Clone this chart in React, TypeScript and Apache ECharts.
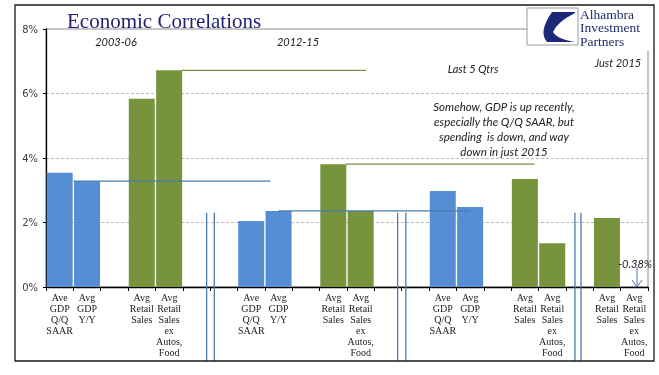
import React, { useEffect, useRef } from "react";
import * as echarts from "echarts";

const categories = [
  "Ave\nGDP\nQ/Q\nSAAR", "Avg\nGDP\nY/Y", "",
  "Avg\nRetail\nSales", "Avg\nRetail\nSales\nex\nAutos,\nFood", "", "",
  "Ave\nGDP\nQ/Q\nSAAR", "Avg\nGDP\nY/Y", "",
  "Avg\nRetail\nSales", "Avg\nRetail\nSales\nex\nAutos,\nFood", "", "",
  "Ave\nGDP\nQ/Q\nSAAR", "Avg\nGDP\nY/Y", "",
  "Avg\nRetail\nSales", "Avg\nRetail\nSales\nex\nAutos,\nFood", "",
  "Avg\nRetail\nSales", "Avg\nRetail\nSales\nex\nAutos,\nFood",
];

const gdpValues = [3.54, 3.28, null, null, null, null, null, 2.05, 2.36, null, null, null, null, null, 2.98, 2.48, null, null, null, null, null, null];
const retailValues = [null, null, null, 5.84, 6.72, null, null, null, null, null, 3.81, 2.36, null, null, null, null, null, 3.35, 1.36, null, 2.14, -0.38];

const yTicks = [0, 2, 4, 6, 8];

// reference lines: [fromSlot, toSlot, value]
const gdpRefLines = [[1, 8.2, 3.28], [8.5, 15.5, 2.36]];
const retailRefLines = [[4.97, 11.7, 6.72], [10.96, 17.85, 3.81]];

// period separators (slot positions)
const separators = [5.87, 6.15, 12.85, 13.15, 19.33, 19.55];

const periodLabels = ["2003-06", "2012-15", "Last 5 Qtrs", "Just 2015"];
const noteLines = ["Somehow, GDP is up recently,", "especially the Q/Q SAAR, but", "spending  is down, and way", "down in just 2015"];
const lastValueLabel = "-0.38%";
const logoLines = ["Alhambra", "Investment", "Partners"];

const BLUE = "#558ED5";
const GREEN = "#77933C";
const LINE_BLUE = "#4A7AAE";

echarts.graphic.registerShape(
  "aipLogo",
  echarts.graphic.extendPath("M25,4 L48,4 L48,5 Q30,14 26,24 Q30,31 48,34 L20,34 Q11,24 25,4 Z", {})
);

export default function App() {
  const ref = useRef<HTMLDivElement>(null);
  useEffect(() => {
    const chart = echarts.init(ref.current!, null, { renderer: "svg" });
    const refSeries: any[] = [];
    gdpRefLines.forEach((l) =>
      refSeries.push({
        type: "line", xAxisIndex: 1, yAxisIndex: 0, showSymbol: false, silent: true,
        data: [[l[0], l[2]], [l[1], l[2]]],
        lineStyle: { color: LINE_BLUE, width: 1.3 }, z: 5,
      })
    );
    retailRefLines.forEach((l) =>
      refSeries.push({
        type: "line", xAxisIndex: 1, yAxisIndex: 0, showSymbol: false, silent: true,
        data: [[l[0], l[2]], [l[1], l[2]]],
        lineStyle: { color: GREEN, width: 1.3 }, z: 5,
      })
    );
    separators.forEach((s) =>
      refSeries.push({
        type: "line", xAxisIndex: 1, yAxisIndex: 0, showSymbol: false, silent: true, clip: false,
        data: [[s, 2.3], [s, -2.3]],
        lineStyle: { color: LINE_BLUE, width: 1.3 }, z: 6,
      })
    );

    const italic = { fontFamily: "Lato", fontStyle: "italic", fontSize: 11, fill: "#222" };

    chart.setOption({
      animation: false,
      title: {
        text: "Economic Correlations",
        left: 62, top: 5,
        textStyle: { fontFamily: "Liberation Serif", fontSize: 21, fontWeight: "normal", color: "#1F1F74" },
      },
      grid: { left: 46, right: 11, top: 29, bottom: 88, show: true, borderColor: "#8C8C8C", borderWidth: 1 },
      xAxis: [
        {
          type: "category", data: categories,
          axisLine: { lineStyle: { color: "#000", width: 1.3 } },
          axisTick: { show: true, interval: 0, length: 4, lineStyle: { color: "#000" } },
          axisLabel: { interval: 0, margin: 5, fontFamily: "Liberation Serif", fontSize: 10, lineHeight: 11, color: "#222" },
        },
        { type: "value", min: 0, max: 22, show: false },
      ],
      yAxis: {
        type: "value", min: yTicks[0], max: yTicks[yTicks.length - 1], interval: 2,
        axisLine: { show: true, lineStyle: { color: "#000", width: 1.3 } },
        axisTick: { show: true, length: 3, lineStyle: { color: "#000" } },
        axisLabel: { formatter: "{value}%", fontFamily: "DejaVu Sans", fontSize: 10, color: "#404040", margin: 8 },
        splitLine: { show: true, showMaxLine: false, showMinLine: false, lineStyle: { color: "#BDBDBD", type: [3, 2] } },
      },
      series: [
        { type: "bar", name: "GDP", data: gdpValues, barWidth: "95%", barGap: "-100%", itemStyle: { color: BLUE }, z: 2 },
        { type: "bar", name: "Retail", data: retailValues, barWidth: "95%", barGap: "-100%", itemStyle: { color: GREEN }, z: 2 },
        ...refSeries,
      ],
      graphic: [
        { type: "rect", shape: { x: 15, y: 5, width: 639, height: 356 }, style: { fill: "none", stroke: "#1a1a1a", lineWidth: 1.3 }, z: 100 },
        { type: "rect", shape: { x: 527, y: 7, width: 124, height: 44 }, style: { fill: "#fff" }, z: 90 },
        { type: "rect", shape: { x: 527, y: 8, width: 51, height: 37 }, style: { fill: "#fff", stroke: "#9a9a9a", lineWidth: 1 }, z: 91 },
        { type: "aipLogo", x: 527, y: 8, style: { fill: "#1B2A78" }, z: 92 },
        ...logoLines.map((t, i) => ({
          type: "text", x: 580, y: 14 + i * 13.8,
          style: { text: t, fontFamily: "Liberation Serif", fontSize: 13.5, lineHeight: 13.5, fill: "#1F2A6B", verticalAlign: "middle" }, z: 92,
        })),
        { type: "text", x: 116, y: 41, style: { ...italic, text: periodLabels[0], align: "center", verticalAlign: "middle" }, z: 50 },
        { type: "text", x: 298, y: 41, style: { ...italic, text: periodLabels[1], align: "center", verticalAlign: "middle" }, z: 50 },
        { type: "text", x: 473, y: 68, style: { ...italic, text: periodLabels[2], align: "center", verticalAlign: "middle" }, z: 50 },
        { type: "text", x: 618, y: 62, style: { ...italic, text: periodLabels[3], align: "center", verticalAlign: "middle" }, z: 95 },
        ...noteLines.map((t, i) => ({
          type: "text", x: 504, y: 106 + i * 15,
          style: { ...italic, fontSize: 11.5, text: t, align: "center", verticalAlign: "middle" }, z: 50,
        })),
        { type: "text", x: 652, y: 263, style: { ...italic, text: lastValueLabel, align: "right", verticalAlign: "middle" }, z: 50 },
        { type: "line", shape: { x1: 637, y1: 267, x2: 637, y2: 287 }, style: { stroke: LINE_BLUE, lineWidth: 1 }, z: 50 },
        { type: "polyline", shape: { points: [[632, 280], [637, 287], [642, 280]] }, style: { stroke: LINE_BLUE, lineWidth: 1, fill: "none" }, z: 50 },
      ],
    });
    return () => chart.dispose();
  }, []);
  return <div ref={ref} style={{ position: "fixed", left: 0, top: 0, width: 659, height: 375 }} />;
}
